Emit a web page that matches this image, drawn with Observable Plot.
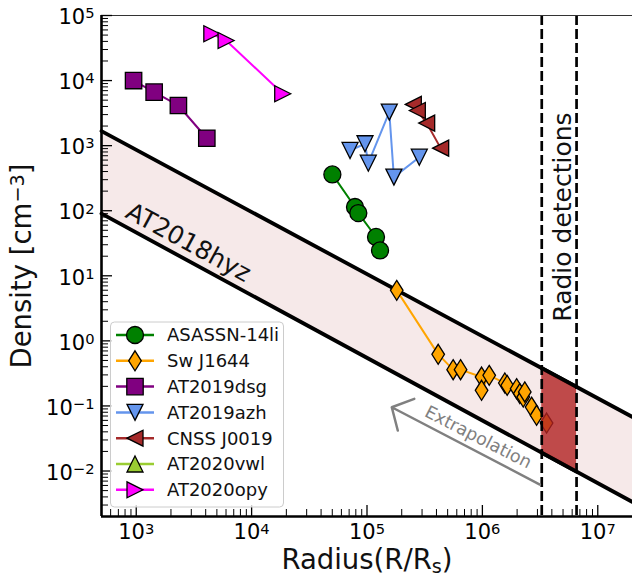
<!DOCTYPE html>
<html><head><meta charset="utf-8">
<script src="https://cdn.jsdelivr.net/npm/d3@7"></script>
<script src="https://cdn.jsdelivr.net/npm/@observablehq/plot@0.6"></script>
<style>
body{margin:0;background:#fff;}
#chart{width:632px;height:581px;}
</style></head><body><div id="chart"></div>
<script>
// ---------- data ----------
const asassnX = [50100, 78700, 84100, 119700, 129700];
const asassnY = [361, 114, 92, 39.5, 24.5];
const swX = [181000, 414000, 558000, 647000, 984000, 984000, 1146000, 1566000, 1640000, 1980000, 2110000, 2260000, 2330000, 2670000, 2950000, 3600000];
const swY = [5.97, 0.621, 0.361, 0.361, 0.278, 0.174, 0.295, 0.225, 0.207, 0.184, 0.155, 0.137, 0.164, 0.096, 0.0718, 0.0546];
const dsgX = [948, 1430, 2320, 4090];
const dsgY = [10000, 6640, 4140, 1300];
const azhX = [71300, 96100, 102600, 156000, 171000, 284000];
const azhY = [843, 1069, 538, 3270, 328, 665];
const cnssX = [252000, 273000, 329000, 435000];
const cnssY = [4300, 3470, 2220, 916];
const vwlX = [4310, 5330, 11100, 13300, 20400, 27200];
const vwlY = [4830, 3090, 767, 566, 176, 176];
const opyX = [4520, 6010, 18600];
const opyY = [52400, 41300, 6270];

const seriesNames = ["ASASSN-14li", "Sw J1644", "AT2019dsg", "AT2019azh", "CNSS J0019", "AT2020vwl", "AT2020opy"];
const seriesColors = ["green", "orange", "purple", "cornflowerblue", "brown", "yellowgreen", "magenta"];

// AT2018hyz band (straight lines in log-log, end points)
const bandX = [500, 2e7];
const bandUpper = [1670, 0.0676];
const bandLower = [90, 0.00334];
// radio detection radii (dashed lines)
const radioX = [3.27e6, 6.55e6];

const xTicks = [1e3, 1e4, 1e5, 1e6, 1e7];
const xTickLabels = ["10^{3}", "10^{4}", "10^{5}", "10^{6}", "10^{7}"];
const yTicks = [1e-2, 1e-1, 1e0, 1e1, 1e2, 1e3, 1e4, 1e5];
const yTickLabels = ["10^{−2}", "10^{−1}", "10^{0}", "10^{1}", "10^{2}", "10^{3}", "10^{4}", "10^{5}"];

// annotations (data coordinates)
const bandLabel = {x: 2825, y: 32.5, text: "AT2018hyz"};
const radioLabel = {x: 5.0e6, y: 80, text: "Radio detections"};
const extraLabel = {x: 9.19e5, y: 0.033, text: "Extrapolation"};
const extraArrow = {x1: 3.15e6, y1: 0.0062, x2: 1.64e5, y2: 0.0955};

// ---------- helpers ----------
function logInterp(xs, ys, x) {
  const t = (Math.log10(x) - Math.log10(xs[0])) / (Math.log10(xs[1]) - Math.log10(xs[0]));
  return 10 ** (Math.log10(ys[0]) + t * (Math.log10(ys[1]) - Math.log10(ys[0])));
}
function sym(points) {
  return {draw(ctx, size) {
    const r = Math.sqrt(size / Math.PI);
    points.forEach(([px, py], i) => i ? ctx.lineTo(px * r, py * r) : ctx.moveTo(px * r, py * r));
    ctx.closePath();
  }};
}
const symSquare = sym([[-1, -1], [1, -1], [1, 1], [-1, 1]]);
const symThinDiamond = sym([[0, -1], [0.63, 0], [0, 1], [-0.63, 0]]);
const symTriUp = sym([[0, -1], [1, 1], [-1, 1]]);
const symTriDown = sym([[0, 1], [1, -1], [-1, -1]]);
const symTriLeft = sym([[-1, 0], [1, -1], [1, 1]]);
const symTriRight = sym([[1, 0], [-1, -1], [-1, 1]]);
const seriesSymbols = [d3.symbolCircle, symThinDiamond, symSquare, symTriDown, symTriLeft, symTriUp, symTriRight];
const seriesR = [8.5, 10, 8.2, 8, 8, 8, 8];

const seriesXY = [[asassnX, asassnY], [swX, swY], [dsgX, dsgY], [azhX, azhY], [cnssX, cnssY], [vwlX, vwlY], [opyX, opyY]];
const seriesRows = seriesXY.map(([xs, ys]) => xs.map((x, i) => ({x, y: ys[i]})));

const bandRows = bandX.map((x, i) => ({x, lo: bandLower[i], hi: bandUpper[i]}));
const radioRows = radioX.map(x => ({x, lo: logInterp(bandX, bandLower, x), hi: logInterp(bandX, bandUpper, x)}));

const W = 632, H = 581, ML = 101, MR = 0, MT = 15, MB = 65;
const PW = W - ML - MR, PH = H - MT - MB;
const xDom = [500, 2e7], yDom = [2e-3, 1e5];
const minor = (lo, hi, k0, k1) => {
  const out = [];
  for (let k = k0; k <= k1; k++) for (let m = 2; m <= 9; m++) {
    const v = m * 10 ** k; if (v > lo * 1.0001 && v < hi * 0.9999) out.push(v);
  }
  return out;
};
const xMinor = minor(xDom[0], xDom[1], 2, 7);
const yMinor = minor(yDom[0], yDom[1], -3, 4);

const marks = [
  Plot.areaY(bandRows, {x: "x", y1: "lo", y2: "hi", fill: "brown", fillOpacity: 0.1}),
  Plot.line(bandRows, {x: "x", y: "hi", stroke: "black", strokeWidth: 3.8}),
  Plot.line(bandRows, {x: "x", y: "lo", stroke: "black", strokeWidth: 3.8}),
];
seriesRows.forEach((rows, i) => {
  marks.push(Plot.line(rows, {x: "x", y: "y", stroke: seriesColors[i], strokeWidth: 2}));
  marks.push(Plot.dot(rows, {x: "x", y: "y", symbol: seriesSymbols[i], r: seriesR[i], fill: seriesColors[i], stroke: "black", strokeWidth: 1.3}));
});
marks.push(
  Plot.areaY(radioRows, {x: "x", y1: "lo", y2: "hi", fill: "firebrick", fillOpacity: 0.8}),
  Plot.line(radioRows, {x: "x", y: "hi", stroke: "black", strokeWidth: 3.8}),
  Plot.line(radioRows, {x: "x", y: "lo", stroke: "black", strokeWidth: 3.8}),
  Plot.ruleX(radioX, {x: d => d, stroke: "black", strokeWidth: 2.7, strokeDasharray: "10,4"}),
  Plot.arrow([extraArrow], {x1: "x1", y1: "y1", x2: "x2", y2: "y2", stroke: "gray", strokeWidth: 2.5, headAngle: 96, headLength: 14.4}),
  Plot.text([extraLabel], {x: "x", y: "y", text: "text", rotate: 27, fontSize: 17.5, fill: "gray"}),
  Plot.text([bandLabel], {x: "x", y: "y", text: "text", rotate: 28.5, fontSize: 25, fill: "#111"}),
  Plot.text([radioLabel], {x: "x", y: "y", text: "text", rotate: -90, fontSize: 25, fill: "#111"}),
  // spines
  Plot.ruleY([yDom[1]], {y: d => d, stroke: "#333", strokeWidth: 1}),
  Plot.ruleX([xDom[0]], {x: d => d, stroke: "black", strokeWidth: 2.6}),
  Plot.ruleY([yDom[0]], {y: d => d, stroke: "black", strokeWidth: 2.6, x1: xDom[0], x2: xDom[1]}),
  // inward ticks
  Plot.tickY(yTicks, {y: d => d, insetRight: PW - 11, stroke: "black", strokeWidth: 1.3}),
  Plot.tickY(yMinor, {y: d => d, insetRight: PW - 7, stroke: "black", strokeWidth: 1}),
  Plot.tickX(xTicks, {x: d => d, insetTop: PH - 11, stroke: "black", strokeWidth: 1.3}),
  Plot.tickX(xMinor, {x: d => d, insetTop: PH - 7, stroke: "black", strokeWidth: 1}),
  Plot.axisX({ticks: xTicks, tickFormat: d => xTickLabels[xTicks.indexOf(d)], tickSize: 0, tickPadding: 8, fontSize: 21, label: null}),
  Plot.axisY({ticks: yTicks, tickFormat: d => yTickLabels[yTicks.indexOf(d)], tickSize: 0, tickPadding: 7, fontSize: 21, dy: 2, label: null}),
  Plot.text(["Radius(R/R_{s})"], {text: d => d, frameAnchor: "bottom", lineAnchor: "middle", textAnchor: "middle", dy: 43.5, fontSize: 27.5, fill: "#111"}),
  Plot.text(["Density [cm^{−3}]"], {text: d => d, frameAnchor: "left", lineAnchor: "middle", textAnchor: "middle", rotate: -90, dx: -79, fontSize: 27.5, fill: "#111"})
);

const plot = Plot.plot({
  width: W, height: H,
  marginLeft: ML, marginRight: MR, marginTop: MT, marginBottom: MB,
  x: {type: "log", domain: xDom},
  y: {type: "log", domain: yDom},
  style: {fontFamily: "DejaVu Sans", fontSize: "21px", color: "black", background: "white", overflow: "visible"},
  marks
});

// super/subscripts in texts: ^{..} and _{..}
function applyScripts(el) {
  const s = el.textContent;
  if (!/[\^_]\{/.test(s)) return;
  el.textContent = "";
  const re = /([\^_])\{([^}]*)\}/g;
  let last = 0, m, shifted = 0;
  const add = (txt, cls, dy) => {
    const t = document.createElementNS("http://www.w3.org/2000/svg", "tspan");
    t.textContent = txt;
    if (cls) t.setAttribute("font-size", "70%");
    if (dy) t.setAttribute("dy", dy);
    el.appendChild(t);
  };
  while ((m = re.exec(s))) {
    if (m.index > last) { add(s.slice(last, m.index), false, shifted ? `${-shifted}em` : null); shifted = 0; }
    if (m[1] === "^") { add(m[2], true, "-0.4em"); shifted = -0.28; }
    else { add(m[2], true, "0.21em"); shifted = 0.15; }
    last = re.lastIndex;
  }
  if (last < s.length) add(s.slice(last), false, shifted ? `${-shifted}em` : null);
}
plot.querySelectorAll("text").forEach(applyScripts);

// legend
const svg = d3.select(plot);
const lg = svg.append("g").attr("font-family", "DejaVu Sans").attr("text-anchor", "start");
lg.append("rect").attr("x", 110.5).attr("y", 322).attr("width", 173).attr("height", 185).attr("rx", 4)
  .attr("fill", "white").attr("fill-opacity", 0.8).attr("stroke", "#cccccc").attr("stroke-width", 1);
seriesNames.forEach((name, i) => {
  const cy = 335 + i * 25.8;
  lg.append("line").attr("x1", 116).attr("x2", 154).attr("y1", cy).attr("y2", cy)
    .attr("stroke", seriesColors[i]).attr("stroke-width", 2.5);
  lg.append("path").attr("d", d3.symbol(seriesSymbols[i], Math.PI * seriesR[i] ** 2)())
    .attr("transform", `translate(135,${cy})`).attr("fill", seriesColors[i]).attr("stroke", "black").attr("stroke-width", 1.3);
  lg.append("text").attr("x", 167).attr("y", cy).attr("dy", "0.36em").attr("font-size", 18)
    .attr("text-anchor", "start").attr("fill", "#111").text(name);
});

document.getElementById("chart").appendChild(plot);
</script>
</body></html>
